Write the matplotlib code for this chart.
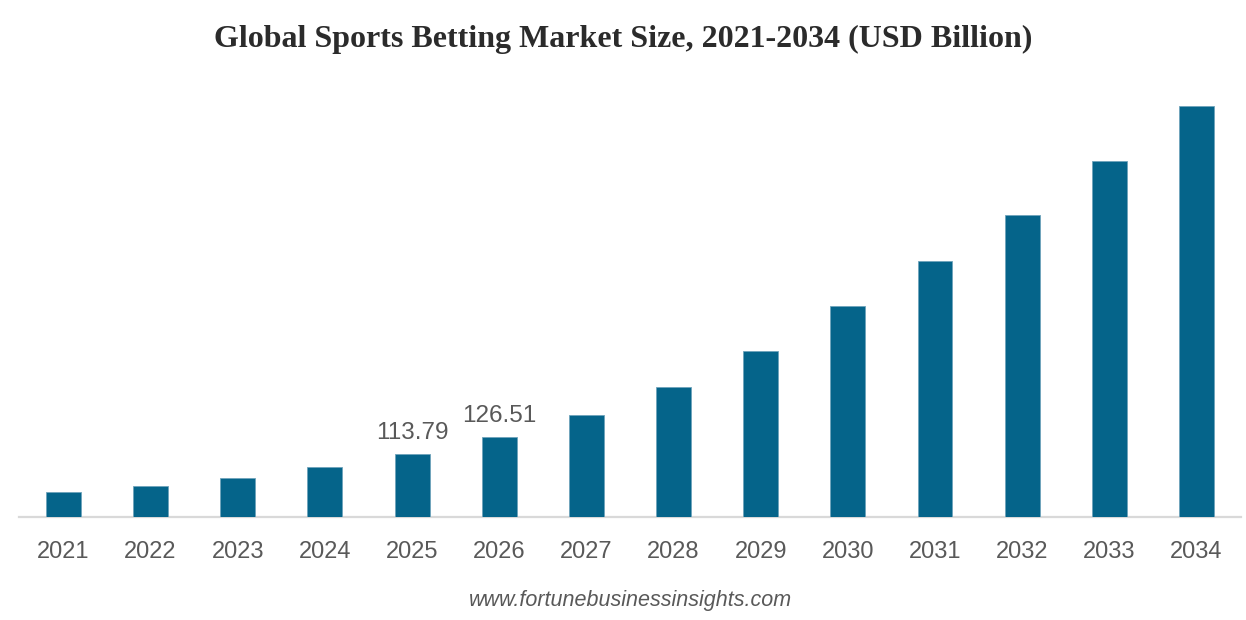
import matplotlib.pyplot as plt

years = ["2021", "2022", "2023", "2024", "2025", "2026", "2027",
         "2028", "2029", "2030", "2031", "2032", "2033", "2034"]
market_size = [85.1, 89.9, 95.5, 103.8, 113.79, 126.51, 143.0,
               163.9, 190.5, 224.5, 258.1, 292.0, 333.0, 374.1]
labelled_years = ["2025", "2026"]

bar_color = "#05648a"
text_gray = "#595959"

fig = plt.figure(figsize=(12.46, 6.2), dpi=100)
ax = fig.add_axes([0.01525, 0.1661, 0.9807, 0.7048])

positions = range(len(years))
bars = ax.bar(positions, market_size, width=0.4, color=bar_color,
              edgecolor="#6fa3bb", linewidth=0.6, zorder=3)

for bar, year, value in zip(bars, years, market_size):
    if year in labelled_years:
        ax.annotate(f"{value:.2f}", (bar.get_x() + bar.get_width() / 2, value),
                    xytext=(0, 7), textcoords="offset points",
                    ha="center", va="bottom", fontsize=17.5,
                    color=text_gray, family="Liberation Sans")

ax.set_xlim(-0.51, len(years) - 0.49)
ax.set_ylim(66.36, 393.2)
ax.set_xticks(list(positions))
ax.set_xticklabels(years, fontsize=17, color=text_gray, family="Liberation Sans")
ax.set_yticks([])
ax.tick_params(axis="x", length=0, pad=17.5)

for side in ["top", "right", "left"]:
    ax.spines[side].set_visible(False)
ax.spines["bottom"].set_color("#d9d9d9")
ax.spines["bottom"].set_linewidth(1.6)

fig.text(0.5, 0.936, "Global Sports Betting Market Size, 2021-2034 (USD Billion)",
         ha="center", va="center", fontsize=23, fontweight="bold",
         color="#2b2b2b", family="Liberation Serif")
fig.text(0.506, 0.032, "www.fortunebusinessinsights.com",
         ha="center", va="center", fontsize=15.5, style="italic",
         color=text_gray, family="Liberation Sans")

fig.savefig("out.png", dpi=100)
